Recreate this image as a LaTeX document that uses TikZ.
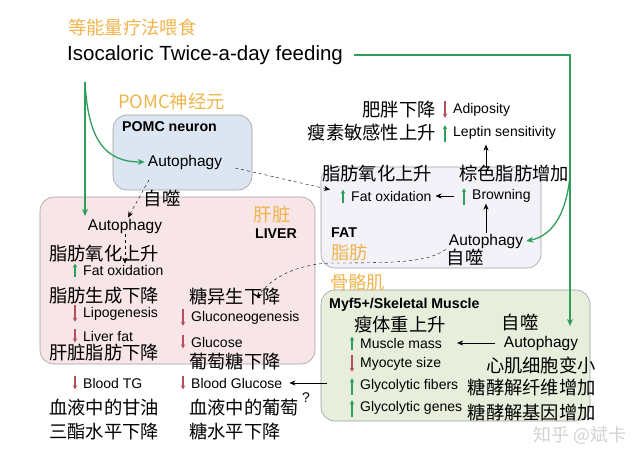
\documentclass[tikz,border=0pt]{standalone}
\usepackage{fontspec}
\setmainfont{Liberation Sans}
\newfontfamily\cjk{Noto Sans CJK SC}
\usetikzlibrary{arrows.meta, positioning, calc}

\definecolor{feedgreen}{HTML}{2E9E5B}
\definecolor{downred}{HTML}{B4505C}
\definecolor{tagorange}{HTML}{F0B44C}
\definecolor{pomcfill}{HTML}{DCE5F2}
\definecolor{liverfill}{HTML}{F7E5E8}
\definecolor{fatfill}{HTML}{F3F2F8}
\definecolor{musclefill}{HTML}{E7EEDB}
\definecolor{boxline}{HTML}{A0A0A0}

% small up / down marks in front of a label
\newcommand\markup[1]{\draw[upmark] ([xshift=-7pt]#1.south west) -- ([xshift=-7pt]#1.north west);}
\newcommand\markdn[1]{\draw[dnmark] ([xshift=-7pt]#1.north west) -- ([xshift=-7pt]#1.south west);}

\begin{document}
\begin{tikzpicture}[
    x=1pt, y=-1pt,
    organ/.style={draw=boxline, rounded corners=14pt, line width=0.6pt},
    zh/.style={font=\cjk\fontsize{18.3}{20}\selectfont, inner sep=1pt},
    tag/.style={zh, text=tagorange},
    big/.style={font=\fontsize{20.5}{22}\selectfont, inner sep=1pt},
    lbl/.style={font=\fontsize{15.5}{17}\selectfont, inner sep=1pt},
    sm/.style={font=\fontsize{14}{15}\selectfont, inner sep=1pt},
    title/.style={font=\bfseries\fontsize{14.2}{15}\selectfont, inner sep=1pt},
    feed/.style={-{Stealth[length=7pt,width=6pt]}, draw=feedgreen, line width=1.3pt},
    blk/.style={-{Stealth[length=6pt,width=5pt]}, thin},
    dasharr/.style={-{Stealth[length=6pt,width=5pt]}, dashed, thin},
    upmark/.style={-{Stealth[length=4pt,width=4.5pt]}, draw=feedgreen, line width=1.2pt, shorten <=-1pt},
    dnmark/.style={-{Stealth[length=4pt,width=4.5pt]}, draw=downred, line width=1.2pt, shorten <=-1pt},
]
\useasboundingbox (0,0) rectangle (640,454);

% Boxes
\draw[organ, fill=pomcfill] (113,115) rectangle (252,190);
\draw[organ, fill=liverfill] (40,197) rectangle (315,364);
\draw[organ, fill=fatfill] (321,167) rectangle (541,268);
\draw[organ, fill=musclefill] (321,290) rectangle (590,421);

% Feeding
\node[tag, anchor=west] (feedzh) at (67,28) {等能量疗法喂食};
\node[big, anchor=west] (feeden) at (66,55) {Isocaloric Twice-a-day feeding};

% POMC neuron
\node[tag, anchor=west] (pomczh) at (117,102) {POMC神经元};
\node[title, anchor=west] (pomcen) at (121,127) {POMC neuron};
\node[lbl] (pomcauto) at (185,162) {Autophagy};

% Liver
\node[tag] (liverzh) at (272,215) {肝脏};
\node[title] (liveren) at (276,234) {LIVER};
\node[lbl] (livauto) at (125,226) {Autophagy};
\node[zh] (livautozh) at (162,199) {自噬};
\node[zh, anchor=west] (lfoxzh) at (48,254) {脂肪氧化上升};
\node[sm, anchor=west] (lfox) at (82,270) {Fat oxidation};
\node[zh, anchor=west] (lipzh) at (48,296) {脂肪生成下降};
\node[sm, anchor=west] (lip) at (82,314) {Lipogenesis};
\node[sm, anchor=west] (lfat) at (82,336) {Liver fat};
\node[zh, anchor=west] (lfatzh) at (48,353) {肝脏脂肪下降};
\node[zh, anchor=west] (gngzh) at (188,297) {糖异生下降};
\node[sm, anchor=west] (gng) at (190,318) {Gluconeogenesis};
\node[sm, anchor=west] (glc) at (190,342) {Glucose};
\node[zh, anchor=west] (glczh) at (188,362) {葡萄糖下降};

% Blood
\node[sm, anchor=west] (btg) at (82,383) {Blood TG};
\node[sm, anchor=west] (bglc) at (190,383) {Blood Glucose};
\node[zh, anchor=west] (btgzh1) at (48,408) {血液中的甘油};
\node[zh, anchor=west] (btgzh2) at (48,432) {三酯水平下降};
\node[zh, anchor=west] (bglczh1) at (188,408) {血液中的葡萄};
\node[zh, anchor=west] (bglczh2) at (188,432) {糖水平下降};
\node[sm] (qmark) at (306,398) {?};

% Fat
\node[zh, anchor=east] (adizh) at (437,110) {肥胖下降};
\node[sm, anchor=west] (adi) at (452,110) {Adiposity};
\node[zh, anchor=east] (lepzh) at (437,133) {瘦素敏感性上升};
\node[sm, anchor=west] (lep) at (452,133) {Leptin sensitivity};
\node[zh, anchor=west] (ffoxzh) at (321,174) {脂肪氧化上升};
\node[sm, anchor=west] (ffox) at (350,196) {Fat oxidation};
\node[zh, anchor=west] (brownzh) at (458,174) {棕色脂肪增加};
\node[sm, anchor=west] (brown) at (471,196) {Browning};
\node[title, anchor=west] (faten) at (330,233) {FAT};
\node[tag, anchor=west] (fatzh) at (330,253) {脂肪};
\node[lbl] (fatauto) at (486,241) {Autophagy};
\node[zh] (fatautozh) at (465,258) {自噬};

% Muscle
\node[tag, anchor=west] (muszh) at (329,283) {骨骼肌};
\node[title, anchor=west] (musen) at (328,305) {Myf5+/Skeletal Muscle};
\node[zh, anchor=west] (mmzh) at (353,325) {瘦体重上升};
\node[sm, anchor=west] (mm) at (359,343) {Muscle mass};
\node[sm, anchor=west] (myo) at (359,364) {Myocyte size};
\node[sm, anchor=west] (gf) at (359,386) {Glycolytic fibers};
\node[sm, anchor=west] (gg) at (359,408) {Glycolytic genes};
\node[zh] (musautozh) at (520,323) {自噬};
\node[lbl] (musauto) at (541,343) {Autophagy};
\node[zh, anchor=east] (myozh) at (597,366) {心肌细胞变小};
\node[zh, anchor=east] (gfzh) at (597,388) {糖酵解纤维增加};
\node[zh, anchor=east] (ggzh) at (597,413) {糖酵解基因增加};

\node[zh, text=gray!35, font=\cjk\fontsize{18}{20}\selectfont] (mark) at (580,435) {知乎 @斌卡};

% Up / down marks
\markup{lfox}
\markdn{lip}
\markdn{lfat}
\markdn{gng}
\markdn{glc}
\markdn{btg}
\markdn{bglc}
\markdn{adi}
\markup{lep}
\markup{ffox}
\markup{brown}
\markup{mm}
\markdn{myo}
\markup{gf}
\markup{gg}

% Feeding arrows
\coordinate (lstart) at (85,82);
\coordinate (ltip) at (85,216);
\coordinate (mtip) at (570,326);
\coordinate (fbranch) at (570,176);
\draw[feed] (lstart) -- (ltip);
\draw[feed] (lstart) .. controls (88,140) and (105,162) .. ([xshift=-2pt]pomcauto.west);
\draw[feed] ([xshift=10pt]feeden.east) -| (mtip);
\draw[feed] (fbranch) .. controls (566,215) and (552,236) .. ([xshift=2pt]fatauto.east);

% Autophagy links
\draw[dasharr] ([xshift=-36pt,yshift=-18pt]pomcauto.center) -- ([xshift=3pt]livauto.north);
\draw[dasharr] (livauto.south) -- (livauto.south |- lfox.north);
\draw[dasharr] ([xshift=12pt,yshift=-6pt]pomcauto.east) -- ([xshift=-20pt]ffox.north west);
\draw[dasharr] ([xshift=-2pt]fatauto.south west) .. controls (428,262) and (400,263) .. (330,263)
    .. controls (290,265) and (268,282) .. ([xshift=22pt,yshift=-1pt]gngzh.center);

% Fat arrows
\draw[blk] (fatauto.north) -- (fatauto.north |- brown.south);
\draw[blk] ([yshift=-4pt]fatauto.north |- brownzh.north) -- ([yshift=-4pt]fatauto.north |- lep.south);
\draw[blk] ([xshift=-17pt]brown.west) -- ([xshift=3pt]ffox.east);

% Muscle arrows
\draw[blk] ([xshift=-8pt]musauto.west) -- ([xshift=14pt]mm.east);
\draw[blk] ([xshift=-32pt]gf.west |- bglc.east) -- ([xshift=6pt]bglc.east);

\end{tikzpicture}
\end{document}
